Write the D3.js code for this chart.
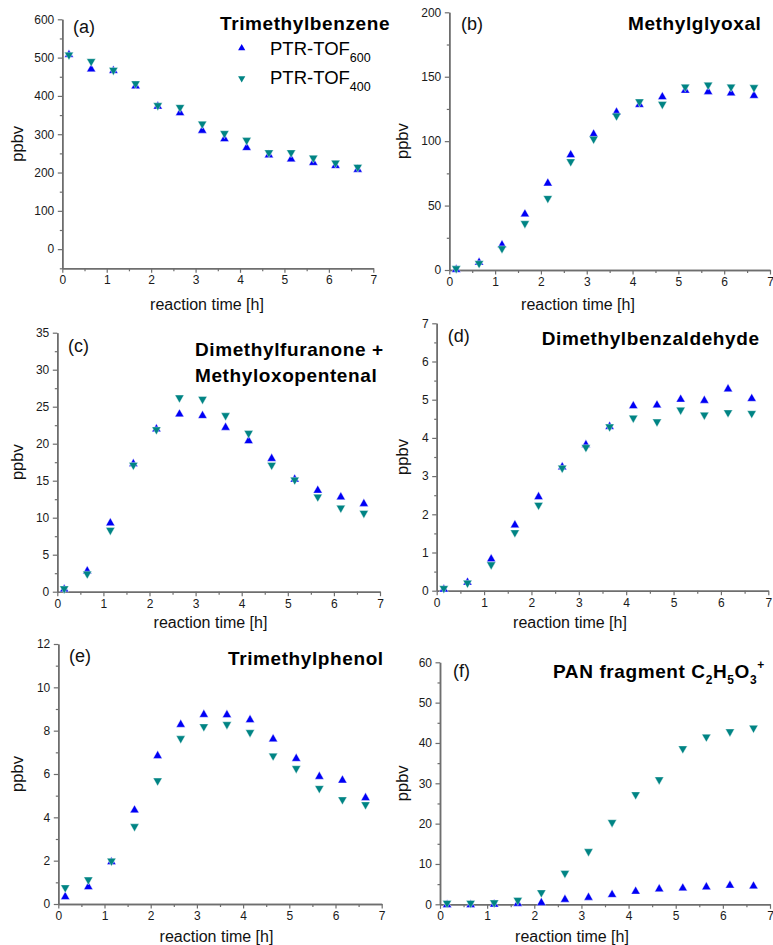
<!DOCTYPE html>
<html>
<head>
<meta charset="utf-8">
<script src="https://cdn.jsdelivr.net/npm/d3@7/dist/d3.min.js"></script>
<style>
  body { margin: 0; background: #fff; }
  svg text { font-family: Arial, "Liberation Sans", sans-serif; }
</style>
</head>
<body>
<svg class="chart" width="773" height="945"></svg>
<script>
// reaction time [h] for every sample
var times = [0.15, 0.65, 1.15, 1.65, 2.15, 2.65, 3.15, 3.65, 4.15, 4.65, 5.15, 5.65, 6.15, 6.65];

// (a) Trimethylbenzene
var tmb600 = [510, 472, 468, 428, 375, 358, 312, 290, 267, 248, 237, 228, 220, 210];
var tmb400 = [505, 488, 465, 430, 373, 368, 325, 300, 282, 250, 250, 236, 223, 212];
// (b) Methylglyoxal
var mgly600 = [1, 6.5, 20, 44, 68, 90, 106, 123, 129, 135, 140, 139, 138, 136];
var mgly400 = [0.5, 4.5, 16, 35.5, 55, 83.5, 101, 119, 130, 128, 141.5, 143, 141.5, 141];
// (c) Dimethylfuranone + Methyloxopentenal
var dmf600 = [0.45, 2.9, 9.4, 17.4, 22.1, 24.1, 23.9, 22.3, 20.5, 18.1, 15.3, 13.8, 12.9, 12.0];
var dmf400 = [0.3, 2.3, 8.2, 17.0, 21.8, 26.1, 25.9, 23.7, 21.3, 17.0, 15.0, 12.7, 11.2, 10.5];
// (d) Dimethylbenzaldehyde
var dmba600 = [0.06, 0.24, 0.85, 1.74, 2.48, 3.26, 3.84, 4.32, 4.86, 4.88, 5.03, 5.0, 5.3, 5.05];
var dmba400 = [0.04, 0.18, 0.66, 1.5, 2.22, 3.19, 3.73, 4.27, 4.5, 4.4, 4.71, 4.58, 4.64, 4.62];
// (e) Trimethylphenol
var tmp600 = [0.37, 0.83, 1.98, 4.37, 6.88, 8.32, 8.78, 8.77, 8.54, 7.65, 6.75, 5.92, 5.75, 4.94];
var tmp400 = [0.72, 1.08, 1.95, 3.54, 5.65, 7.6, 8.15, 8.25, 7.88, 6.8, 6.22, 5.3, 4.78, 4.55];
// (f) PAN fragment C2H5O3+
var pan600 = [0.1, 0.1, 0.2, 0.4, 0.6, 1.4, 1.9, 2.6, 3.4, 4.0, 4.2, 4.5, 4.9, 4.7];
var pan400 = [0.1, 0.1, 0.2, 0.8, 2.7, 7.5, 12.9, 20.1, 27.0, 30.7, 38.4, 41.3, 42.6, 43.5];

// tick labels
var xTicks = [0, 1, 2, 3, 4, 5, 6, 7];
var yTicksA = [0, 100, 200, 300, 400, 500, 600];
var yTicksB = [0, 50, 100, 150, 200];
var yTicksC = [0, 5, 10, 15, 20, 25, 30, 35];
var yTicksD = [0, 1, 2, 3, 4, 5, 6, 7];
var yTicksE = [0, 2, 4, 6, 8, 10, 12];
var yTicksF = [0, 10, 20, 30, 40, 50, 60];

var blue = "#0000f5",
    teal = "#008484",
    axisColor = "#6e6e6e";

var svg = d3.select(".chart");

// panel layout
var panels = [
    { label: "(a)", lx: 73, ly: 32.5, title: ["Trimethylbenzene"], tx: 220, ty: 29.5,
      v600: tmb600, v400: tmb400, yTicks: yTicksA, yMin: -50, yMinorStep: 50,
      left: 62.3, right: 373.3, top: 19.3, bottom: 268.3, xLabelX: 207, xLabelY: 310, yLabelX: 23 },
    { label: "(b)", lx: 461, ly: 30, title: ["Methylglyoxal"], tx: 628, ty: 30,
      v600: mgly600, v400: mgly400, yTicks: yTicksB, yMin: 0, yMinorStep: 25,
      left: 449.3, right: 770, top: 12.3, bottom: 270, xLabelX: 578, xLabelY: 310, yLabelX: 408 },
    { label: "(c)", lx: 68, ly: 351.5, title: ["Dimethylfuranone +", "Methyloxopentenal"], tx: 195, ty: 356,
      v600: dmf600, v400: dmf400, yTicks: yTicksC, yMin: 0, yMinorStep: 2.5,
      left: 57.3, right: 380, top: 332.7, bottom: 591.7, xLabelX: 210.5, xLabelY: 628, yLabelX: 23 },
    { label: "(d)", lx: 447.7, ly: 341.5, title: ["Dimethylbenzaldehyde"], tx: 541.7, ty: 345,
      v600: dmba600, v400: dmba400, yTicks: yTicksD, yMin: 0, yMinorStep: 0.5,
      left: 436.7, right: 768.3, top: 323.3, bottom: 590.7, xLabelX: 570, xLabelY: 628, yLabelX: 408 },
    { label: "(e)", lx: 69, ly: 661.5, title: ["Trimethylphenol"], tx: 228, ty: 665,
      v600: tmp600, v400: tmp400, yTicks: yTicksE, yMin: 0, yMinorStep: 1,
      left: 58.3, right: 381.7, top: 644, bottom: 904, xLabelX: 216.5, xLabelY: 942, yLabelX: 23 },
    { label: "(f)", lx: 453, ly: 676.5, title: null, tx: 553, ty: 678,
      v600: pan600, v400: pan400, yTicks: yTicksF, yMin: 0, yMinorStep: 5,
      left: 440, right: 770, top: 662.3, bottom: 904.3, xLabelX: 572, xLabelY: 942, yLabelX: 408 }
];

var upPath = "M0,-4.4L4.5,3.5L-4.5,3.5Z",
    downPath = "M0,4.4L4.5,-3.5L-4.5,-3.5Z";

var intFormat = d3.format("d");

function styleAxis(sel) {
    sel.select(".domain").attr("stroke", axisColor).attr("stroke-width", 1.5);
    sel.selectAll(".tick line").attr("stroke", axisColor).attr("stroke-width", 1.2);
    sel.selectAll(".tick text").attr("fill", "#1a1a1a").attr("font-size", 12)
        .attr("font-family", "Arial, 'Liberation Sans', sans-serif");
}

panels.forEach(function(p) {
    var yMax = p.yTicks[p.yTicks.length - 1];
    var x = d3.scaleLinear().domain([0, 7]).range([p.left, p.right]);
    var y = d3.scaleLinear().domain([p.yMin, yMax]).range([p.bottom, p.top]);
    var g = svg.append("g");

    var xMinor = d3.range(0.5, 7, 1);
    var yMinor = d3.range(p.yMin, yMax + 1e-9, p.yMinorStep)
        .filter(function(v) { return p.yTicks.indexOf(+v.toFixed(4)) < 0; });

    // minor ticks first
    g.append("g").attr("transform", "translate(0," + p.bottom + ")")
        .call(d3.axisBottom(x).tickValues(xMinor).tickSize(3).tickSizeOuter(0).tickFormat(""))
        .call(styleAxis);
    g.append("g").attr("transform", "translate(" + p.left + ",0)")
        .call(d3.axisLeft(y).tickValues(yMinor).tickSize(2.5).tickSizeOuter(0).tickFormat(""))
        .call(styleAxis);

    g.append("g").attr("transform", "translate(0," + p.bottom + ")")
        .call(d3.axisBottom(x).tickValues(xTicks).tickSize(4.5).tickSizeOuter(0)
            .tickPadding(3).tickFormat(intFormat))
        .call(styleAxis);
    g.append("g").attr("transform", "translate(" + p.left + ",0)")
        .call(d3.axisLeft(y).tickValues(p.yTicks).tickSize(4.5).tickSizeOuter(0)
            .tickPadding(3.5).tickFormat(intFormat))
        .call(styleAxis);

    // data points
    g.selectAll(".p600").data(p.v600).enter().append("path")
        .attr("class", "p600")
        .attr("d", upPath)
        .attr("fill", blue)
        .attr("stroke", "#fff").attr("stroke-width", 0.4)
        .attr("transform", function(d, i) { return "translate(" + x(times[i]) + "," + y(d) + ")"; });
    g.selectAll(".p400").data(p.v400).enter().append("path")
        .attr("class", "p400")
        .attr("d", downPath)
        .attr("fill", teal)
        .attr("stroke", "#fff").attr("stroke-width", 0.4)
        .attr("transform", function(d, i) { return "translate(" + x(times[i]) + "," + y(d) + ")"; });

    // axis titles
    g.append("text").attr("x", p.xLabelX).attr("y", p.xLabelY)
        .attr("text-anchor", "middle").attr("font-size", 16).attr("fill", "#111")
        .text("reaction time [h]");
    g.append("text")
        .attr("transform", "translate(" + p.yLabelX + "," + ((p.top + p.bottom) / 2) + ") rotate(-90)")
        .attr("text-anchor", "middle").attr("font-size", 16.5).attr("fill", "#111")
        .text("ppbv");

    // panel letter
    g.append("text").attr("x", p.lx).attr("y", p.ly)
        .attr("font-size", 18).attr("fill", "#111").text(p.label);

    // compound title
    if (p.title) {
        p.title.forEach(function(t, i) {
            g.append("text").attr("x", p.tx).attr("y", p.ty + i * 25.7)
                .attr("font-size", 19).attr("font-weight", "bold")
                .attr("letter-spacing", 0.6).attr("fill", "#000")
                .text(t);
        });
    } else {
        var t = g.append("text").attr("x", p.tx).attr("y", p.ty)
            .attr("font-size", 19).attr("font-weight", "bold")
            .attr("letter-spacing", 0.6).attr("fill", "#000");
        t.append("tspan").text("PAN fragment C");
        t.append("tspan").attr("font-size", 12).attr("dy", 6).text("2");
        t.append("tspan").attr("dy", -6).text("H");
        t.append("tspan").attr("font-size", 12).attr("dy", 6).text("5");
        t.append("tspan").attr("dy", -6).text("O");
        t.append("tspan").attr("font-size", 12).attr("dy", 6).text("3");
        t.append("tspan").attr("font-size", 12).attr("dy", -15).text("+");
    }
});

// legend inside panel (a)
var legend = svg.append("g");
var legendItems = [
    { sub: "600", color: blue, path: upPath, my: 47.5, ty: 55 },
    { sub: "400", color: teal, path: downPath, my: 79, ty: 84 }
];
legendItems.forEach(function(d) {
    legend.append("path").attr("d", d.path).attr("fill", d.color)
        .attr("transform", "translate(241.7," + d.my + ") scale(0.8)");
    var t = legend.append("text").attr("x", 270).attr("y", d.ty)
        .attr("font-size", 18.5).attr("fill", "#000");
    t.append("tspan").text("PTR-TOF");
    t.append("tspan").attr("font-size", 12.5).attr("dy", 7).text(d.sub);
});
</script>
</body>
</html>
